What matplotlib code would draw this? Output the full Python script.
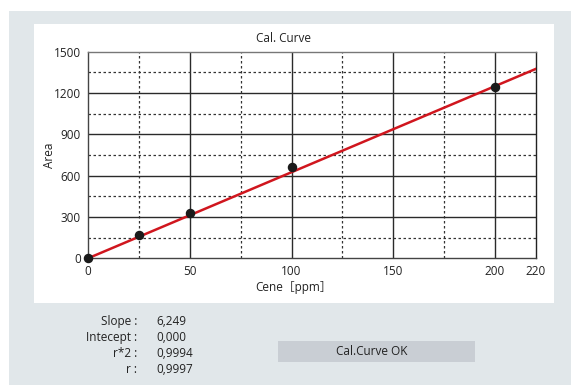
import matplotlib.pyplot as plt
import numpy as np
from matplotlib.patches import Rectangle

# calibration standards
conc = [0, 25, 50, 100, 200]
area = [0, 172, 332, 662, 1242]

slope = 6.249
intercept = 0.000
r2 = 0.9994
r = 0.9997

xticks = [0, 50, 100, 150, 200, 220]
yticks = [0, 300, 600, 900, 1200, 1500]
xminor = [25, 75, 125, 175]
yminor = [150, 450, 750, 1050, 1350]

stat_names = ['Slope :', 'Intecept :', 'r*2 :', 'r :']
stat_vals = ['6,249', '0,000', '0,9994', '0,9997']

plt.rcParams['font.family'] = ['Open Sans', 'Noto Sans CJK JP', 'DejaVu Sans']
FS = 8.5

W, H = 571, 386
fig = plt.figure(figsize=(W/100, H/100), dpi=100)
fig.patch.set_facecolor('white')

def fx(px): return px / W
def fy(py): return 1 - py / H

# grey panel and white plot card
fig.patches.append(Rectangle((fx(9), fy(385)), fx(562), (385-11)/H, transform=fig.transFigure,
                             facecolor='#e1e7ea', edgecolor='none', zorder=-2))
fig.patches.append(Rectangle((fx(34), fy(303)), fx(520), (303-24)/H, transform=fig.transFigure,
                             facecolor='white', edgecolor='none', zorder=-1))

ax = fig.add_axes([fx(88), fy(258.3), fx(535.7-88), (258.3-51.7)/H])
ax.set_zorder(2)
ax.set_facecolor('none')
ax.set_xlim(0, 220)
ax.set_ylim(0, 1500)

for x in [50, 100, 150, 200]:
    ax.axvline(x, color='#2a2a2a', lw=1.0, zorder=1)
for x in xminor:
    ax.axvline(x, color='#333333', lw=0.9, ls=(0, (2, 2)), zorder=1)
for y in [300, 600, 900, 1200]:
    ax.axhline(y, color='#2a2a2a', lw=1.0, zorder=1)
for y in yminor:
    ax.axhline(y, color='#333333', lw=0.9, ls=(0, (2, 2)), zorder=1)

xs = np.array([0, 220])
ax.plot(xs, slope * xs + intercept, color='#d0161e', lw=1.8, zorder=3)
ax.scatter(conc, area, s=34, color='#1a1a1a', zorder=4, clip_on=False)

for s in ax.spines.values():
    s.set_color('#444444')
    s.set_linewidth(1.0)
ax.spines['top'].set_color('#777777')
ax.spines['right'].set_color('#222222')

ax.set_xticks(xticks)
ax.set_yticks(yticks)
ax.tick_params(length=0, labelsize=FS, colors='#222222', pad=5)
ax.set_xlabel('Cene［ppm］', fontsize=FS, color='#222222')
ax.xaxis.set_label_coords((294 - 88) / 447.7, -(281 - 258.3) / 206.6)
ax.set_ylabel('Area', fontsize=FS, color='#222222', labelpad=-1.5)

fig.text(fx(284), fy(39), 'Cal. Curve', ha='center', va='center', fontsize=FS, color='#222222')

rows = [321.7, 337.3, 353.3, 369.3]
for name, val, y in zip(stat_names, stat_vals, rows):
    fig.text(fx(137), fy(y), name, ha='right', va='center', fontsize=FS, color='#222222')
    fig.text(fx(156), fy(y), val, ha='left', va='center', fontsize=FS, color='#222222')

fig.patches.append(Rectangle((fx(278), fy(361.7)), fx(475-278), (361.7-341)/H, transform=fig.transFigure,
                             facecolor='#c9ced4', edgecolor='none', zorder=-1))
fig.text(fx(372), fy(351.5), 'Cal.Curve OK', ha='center', va='center', fontsize=FS, color='#222222')

fig.savefig('out.png', dpi=100)
